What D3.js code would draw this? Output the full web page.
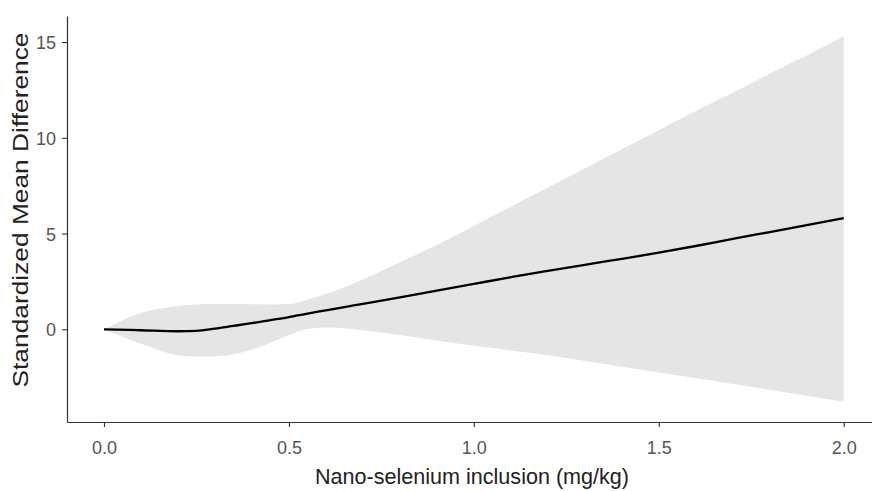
<!DOCTYPE html>
<html>
<head>
<meta charset="utf-8">
<script src="https://cdn.jsdelivr.net/npm/d3@7"></script>
<style>
  body { margin: 0; background: #fff; }
  svg { display: block; }
  text { font-family: "Liberation Sans", Arial, sans-serif; }
</style>
</head>
<body>
<svg id="chart" width="872" height="491"></svg>
<script>
// dose (mg/kg) and fitted standardized mean difference with its confidence band
var dose  = [0, 0.1, 0.2, 0.25, 0.3, 0.35, 0.4, 0.45, 0.5, 0.55, 0.6, 0.65, 0.7, 0.8, 0.9, 1.0,
             1.1, 1.2, 1.3, 1.4, 1.5, 1.6, 1.7, 1.8, 1.9, 2.0];
var smd   = [0, -0.05, -0.1, -0.08, 0.04, 0.18, 0.32, 0.48, 0.64, 0.82, 0.99, 1.16, 1.33, 1.67, 2.02, 2.37,
             2.72, 3.05, 3.37, 3.68, 4.0, 4.35, 4.72, 5.08, 5.44, 5.8];
var upper = [0, 0.85, 1.22, 1.3, 1.32, 1.32, 1.31, 1.3, 1.32, 1.55, 1.85, 2.2, 2.6, 3.5, 4.4, 5.4,
             6.4, 7.4, 8.4, 9.4, 10.4, 11.4, 12.35, 13.35, 14.3, 15.3];
var lower = [0, -0.75, -1.35, -1.42, -1.42, -1.3, -1.05, -0.7, -0.3, 0.02, 0.1, 0.06, -0.05, -0.3, -0.58, -0.86,
             -1.1, -1.35, -1.65, -1.95, -2.25, -2.55, -2.85, -3.15, -3.47, -3.78];

var xTicks = [0, 0.5, 1.0, 1.5, 2.0];
var yTicks = [0, 5, 10, 15];

var svg = d3.select('#chart');

var x = d3.scaleLinear().domain([-0.1, 2.1]).range([67, 880.7]);
var y = d3.scaleLinear().domain([-4.84, 16.36]).range([422, 16]);

var rows = dose.map(function (d, i) {
  return { x: d, y: smd[i], lo: lower[i], hi: upper[i] };
});

// confidence band
var band = d3.area()
  .x(function (d) { return x(d.x); })
  .y0(function (d) { return y(d.lo); })
  .y1(function (d) { return y(d.hi); })
  .curve(d3.curveMonotoneX);

svg.append('path')
  .datum(rows)
  .attr('d', band)
  .attr('fill', '#e5e5e5');

// fitted line
var line = d3.line()
  .x(function (d) { return x(d.x); })
  .y(function (d) { return y(d.y); })
  .curve(d3.curveMonotoneX);

svg.append('path')
  .datum(rows)
  .attr('d', line)
  .attr('fill', 'none')
  .attr('stroke', '#000')
  .attr('stroke-width', 2.3);

// axes
var xAxis = d3.axisBottom(x).tickValues(xTicks).tickFormat(d3.format('.1f')).tickSize(5).tickSizeOuter(0);
var yAxis = d3.axisLeft(y).tickValues(yTicks).tickFormat(d3.format('d')).tickSize(5).tickSizeOuter(0);

var gx = svg.append('g').attr('transform', 'translate(0,422)').call(xAxis);
var gy = svg.append('g').attr('transform', 'translate(67,0)').call(yAxis);

[gx, gy].forEach(function (g) {
  g.select('.domain').attr('stroke', '#333').attr('stroke-width', 1.2);
  g.selectAll('.tick line').attr('stroke', '#333').attr('stroke-width', 1.1);
  g.selectAll('.tick text')
    .attr('fill', '#555')
    .style('font-size', '18px');
});
gx.selectAll('.tick text').attr('dy', null).attr('y', 32);
gy.selectAll('.tick text').attr('x', -11).attr('dy', '0.36em');

// axis titles
svg.append('text')
  .attr('x', 472)
  .attr('y', 484)
  .attr('text-anchor', 'middle')
  .attr('textLength', 314)
  .attr('lengthAdjust', 'spacingAndGlyphs')
  .style('font-size', '22px')
  .attr('fill', '#222')
  .text('Nano-selenium inclusion (mg/kg)');

svg.append('text')
  .attr('transform', 'translate(28,210) rotate(-90)')
  .attr('text-anchor', 'middle')
  .attr('textLength', 355)
  .attr('lengthAdjust', 'spacingAndGlyphs')
  .style('font-size', '22.5px')
  .attr('fill', '#222')
  .text('Standardized Mean Difference');
</script>
</body>
</html>
